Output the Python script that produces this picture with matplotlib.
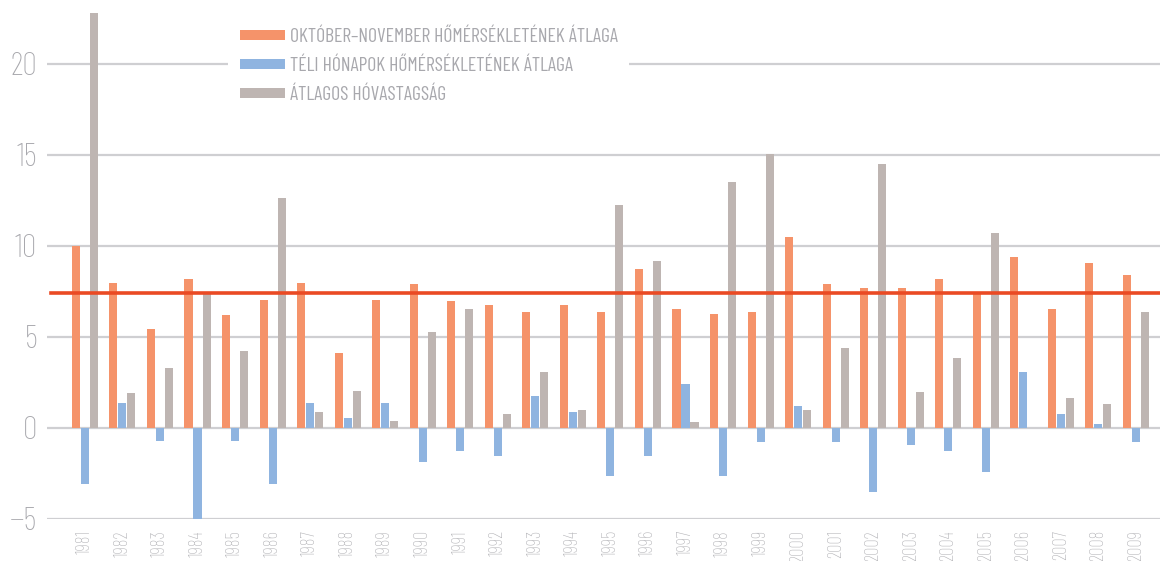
import matplotlib
matplotlib.use("Agg")
import matplotlib.pyplot as plt
import numpy as np

years = [str(y) for y in range(1981, 2010)]
okt_nov = [10.0, 7.95, 5.45, 8.2, 6.18, 7.0, 7.95, 4.13, 7.0, 7.9,
           6.97, 6.75, 6.36, 6.75, 6.36, 8.73, 6.53, 6.25, 6.36, 10.5,
           7.9, 7.68, 7.68, 8.18, 7.41, 9.39, 6.53, 9.06, 8.4]
teli = [-3.08, 1.37, -0.71, -5.22, -0.71, -3.08, 1.37, 0.54, 1.37, -1.87,
        -1.27, -1.55, 1.78, 0.9, -2.63, -1.55, 2.39, -2.63, -0.76, 1.18,
        -0.76, -3.52, -0.93, -1.27, -2.4, 3.05, 0.74, 0.24, -0.76]
ho = [22.8, 1.92, 3.3, 7.4, 4.24, 12.64, 0.87, 2.03, 0.37, 5.26,
      6.53, 0.74, 3.05, 1.01, 12.26, 9.17, 0.35, 13.53, 15.05, 1.01,
      4.38, 14.52, 2.0, 3.82, 10.72, 0.0, 1.62, 1.34, 6.36]
atlag = 7.41
labels = ["OKTÓBER–NOVEMBER HŐMÉRSÉKLETÉNEK ÁTLAGA",
          "TÉLI HÓNAPOK HŐMÉRSÉKLETÉNEK ÁTLAGA",
          "ÁTLAGOS HÓVASTAGSÁG"]

fnt = ["Barlow Condensed", "DejaVu Sans"]
text_col = "#a8a8ad"

fig = plt.figure(figsize=(11.6, 5.61), dpi=100)
ax = fig.add_axes([47 / 1160, 42 / 561, 1 - 47 / 1160, 519 / 561])

x = np.arange(len(years))
w = 0.215
b1 = ax.bar(x - 0.24, okt_nov, w, color="#f5936a", zorder=3)
b2 = ax.bar(x, teli, w, color="#8fb4e0", zorder=3)
b3 = ax.bar(x + 0.24, ho, w, color="#beb5b2", zorder=3)
ax.axhline(atlag, xmin=0.004, color="#ea4a24", lw=2.6, zorder=4)

ax.set_xlim(-1.01, 28.64)
ax.set_ylim(-5, 23.5)
ax.grid(axis="y", color="#cfcfd2", lw=1.6, zorder=0)
for s in ax.spines.values():
    s.set_visible(False)
ax.tick_params(axis="x", length=0, pad=8)
ax.tick_params(axis="y", length=0, pad=7)
ax.set_xticks(x)
ax.set_xticklabels(years, rotation=90, fontfamily=fnt, fontweight=250,
                   fontsize=13.5, color="#b4b4b8")
ax.set_yticks([-5, 0, 5, 10, 15, 20])
ax.set_yticklabels(["−5", "0", "5", "10", "15", "20"], fontfamily=fnt,
                   fontweight=250, fontsize=23.5, color=text_col)

leg = ax.legend([b1, b2, b3], labels, loc="upper left",
                bbox_to_anchor=(228 / 1160, 1 - 16.5 / 561), bbox_transform=fig.transFigure,
                frameon=True, framealpha=1, edgecolor="white", facecolor="white",
                fancybox=False, handlelength=2.3, handleheight=0.42, handletextpad=0.22,
                borderpad=0.6, prop={"family": fnt, "size": 14.2, "weight": 400},
                labelspacing=0.56, borderaxespad=0)
leg.get_frame().set_linewidth(0)
for t in leg.get_texts():
    t.set_color(text_col)

fig.savefig("out.png", dpi=100)
